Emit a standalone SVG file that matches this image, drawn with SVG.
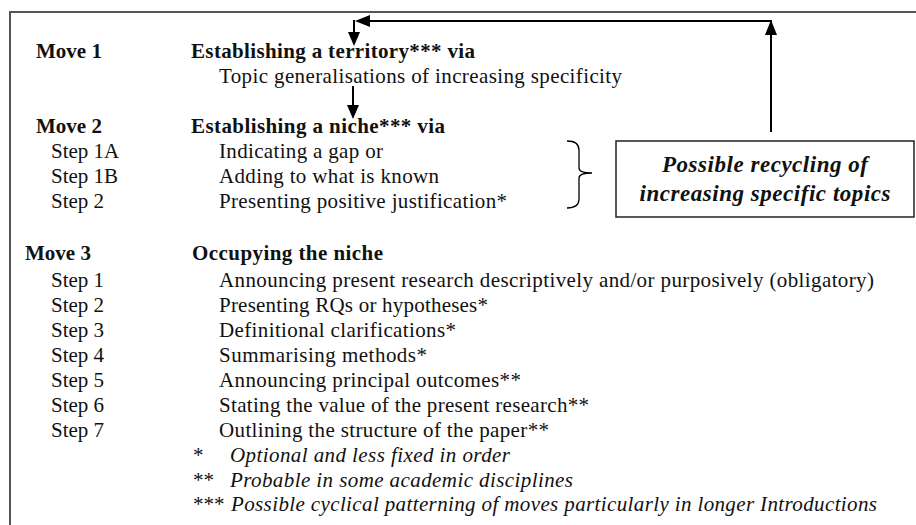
<svg xmlns="http://www.w3.org/2000/svg" width="916" height="525" viewBox="0 0 916 525">
<style>
text{font-family:"Times New Roman","Liberation Serif",Tinos,"DejaVu Serif",Times,serif;font-size:21px;fill:#111}
.b{font-weight:bold}
.i{font-style:italic}
.bi{font-weight:bold;font-style:italic;font-size:23px;text-anchor:middle}
.ln{stroke:#000;stroke-width:2;fill:none}
.ah{fill:#000}
</style>
<rect width="916" height="525" fill="#fff"/>
<g id="frame"><path d="M10,525 V12 H916" stroke="#555" stroke-width="2" fill="none"/></g>
<g id="move1">
<text class="b" x="36" y="58">Move 1</text>
<text class="b" x="191" y="58" textLength="284" lengthAdjust="spacing">Establishing a territory*** via</text>
<text x="219" y="83" textLength="403" lengthAdjust="spacing">Topic generalisations of increasing specificity</text>
</g>
<g id="move2">
<text class="b" x="36" y="133">Move 2</text>
<text class="b" x="191" y="133" textLength="254" lengthAdjust="spacing">Establishing a niche*** via</text>
<text x="51" y="158">Step 1A</text><text x="219" y="158" textLength="164" lengthAdjust="spacing">Indicating a gap or</text>
<text x="51" y="183">Step 1B</text><text x="219" y="183" textLength="220" lengthAdjust="spacing">Adding to what is known</text>
<text x="51" y="208">Step 2</text><text x="219" y="208" textLength="288" lengthAdjust="spacing">Presenting positive justification*</text>
</g>
<g id="move3">
<text class="b" x="25" y="260">Move 3</text>
<text class="b" x="192" y="260" textLength="191" lengthAdjust="spacing">Occupying the niche</text>
<text x="51" y="287">Step 1</text><text x="219" y="287" textLength="655" lengthAdjust="spacing">Announcing present research descriptively and/or purposively (obligatory)</text>
<text x="51" y="312">Step 2</text><text x="219" y="312" textLength="269" lengthAdjust="spacing">Presenting RQs or hypotheses*</text>
<text x="51" y="337">Step 3</text><text x="219" y="337" textLength="237" lengthAdjust="spacing">Definitional clarifications*</text>
<text x="51" y="362">Step 4</text><text x="219" y="362" textLength="208" lengthAdjust="spacing">Summarising methods*</text>
<text x="51" y="387">Step 5</text><text x="219" y="387" textLength="302" lengthAdjust="spacing">Announcing principal outcomes**</text>
<text x="51" y="412">Step 6</text><text x="219" y="412" textLength="370" lengthAdjust="spacing">Stating the value of the present research**</text>
<text x="51" y="437">Step 7</text><text x="219" y="437" textLength="330" lengthAdjust="spacing">Outlining the structure of the paper**</text>
</g>
<g id="footnotes">
<text x="193" y="462">*</text><text class="i" x="230" y="462" textLength="280" lengthAdjust="spacing">Optional and less fixed in order</text>
<text x="193" y="487">**</text><text class="i" x="230" y="487" textLength="343" lengthAdjust="spacing">Probable in some academic disciplines</text>
<text x="193" y="511">***</text><text class="i" x="231" y="511" textLength="646" lengthAdjust="spacing">Possible cyclical patterning of moves particularly in longer Introductions</text>
</g>
<g id="recycle-box">
<rect x="616" y="141" width="298" height="76" fill="#fff" stroke="#222" stroke-width="1.5"/>
<text class="bi" x="765" y="172" textLength="206" lengthAdjust="spacing">Possible recycling of</text>
<text class="bi" x="765" y="201" textLength="251" lengthAdjust="spacing">increasing specific topics</text>
</g>
<g id="brace">
<path d="M567,141 Q579,141 579,150 V168 Q579,173 592,173 Q579,173 579,178 V199 Q579,208 567,208" stroke="#000" stroke-width="1.3" fill="none"/>
</g>
<g id="connectors">
<path class="ln" d="M771,132 V21 H368"/>
<polygon class="ah" points="771,20 765,35 777,35"/>
<polygon class="ah" points="355,21 370,15 370,27"/>
<path class="ln" d="M354,20 V33"/>
<polygon class="ah" points="354,46 348,32 360,32"/>
<path class="ln" d="M353,86 V106"/>
<polygon class="ah" points="353,119 347,105 359,105"/>
</g>
</svg>
